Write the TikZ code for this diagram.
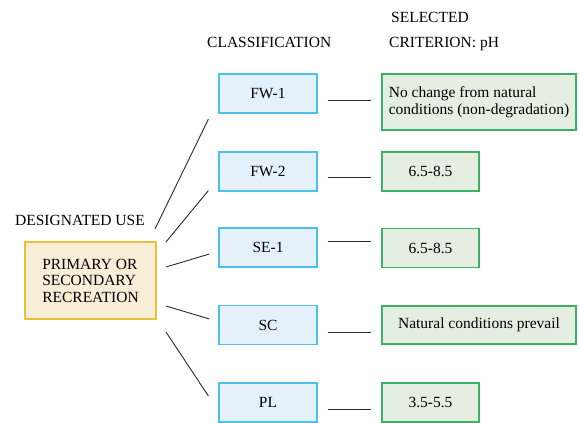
\documentclass[tikz,border=0pt]{standalone}
\usepackage{fontspec}
\setmainfont{Liberation Serif}
\usetikzlibrary{calc}
\definecolor{clsborder}{HTML}{4EC0EE}
\definecolor{clsfill}{HTML}{E4F1FA}
\definecolor{critborder}{HTML}{3CB065}
\definecolor{critfill}{HTML}{E4EFE2}
\definecolor{useborder}{HTML}{E8C23C}
\definecolor{usefill}{HTML}{F8EDD6}
\definecolor{linecol}{HTML}{2A2A2A}
\begin{document}
\begin{tikzpicture}[x=1pt,y=-1pt,
  every node/.style={font=\fontsize{15.5}{16.5}\selectfont, text=black},
  clsbox/.style={draw=clsborder, fill=clsfill, line width=1.2pt, minimum width=98pt, minimum height=39pt, inner sep=0pt},
  critbox/.style={draw=critborder, fill=critfill, line width=1.2pt, minimum height=39pt, inner sep=0pt},
  usebox/.style={draw=useborder, fill=usefill, line width=1.3pt, minimum width=131pt, minimum height=77pt, inner sep=0pt, align=left},
  lbl/.style={inner sep=0pt, anchor=base west},
  conn/.style={draw=linecol, line width=0.9pt}
]
\useasboundingbox (0,0) rectangle (579,423);

% headings
\node[lbl] (hdu) at (15,225) {DESIGNATED USE};
\node[lbl] (hcl) at (207,47) {CLASSIFICATION};
\node[lbl] (hsel) at (391,23) {SELECTED};
\node[lbl] (hcrit) at (389,47) {CRITERION: pH};

% designated use
\node[usebox] (use) at (90.5,280.5) {PRIMARY OR\\SECONDARY\\RECREATION};

% classification boxes
\node[clsbox] (fw1) at (268,93.5) {FW-1};
\node[clsbox] (fw2) at (268,171.5) {FW-2};
\node[clsbox] (se1) at (268,247.5) {SE-1};
\node[clsbox] (sc) at (268,325) {SC};
\node[clsbox] (pl) at (268,402.5) {PL};

% criterion boxes
\node[critbox, minimum width=194pt, minimum height=56pt, align=left] (c1) at (479,102) {No change from natural\\conditions (non-degradation)};
\node[critbox, minimum width=97pt] (c2) at (430.5,171.5) {6.5-8.5};
\node[critbox, minimum width=97pt] (c3) at (430.5,248) {6.5-8.5};
\node[critbox, minimum width=194pt, minimum height=38pt] (c4) at (479,325) {Natural conditions prevail};
\node[critbox, minimum width=97pt] (c5) at (430.5,402.5) {3.5-5.5};

% fan connectors from designated use
\coordinate (u1) at (155,229);
\coordinate (u2) at (166,242);
\coordinate (u3) at (166,267);
\coordinate (u4) at (166,306);
\coordinate (u5) at (166,332);
\draw[conn] (u1) -- ([xshift=-10pt,yshift=-5.5pt]fw1.south west);
\draw[conn] (u2) -- ([xshift=-10pt,yshift=-19pt]fw2.west);
\draw[conn] (u3) -- ([xshift=-9pt,yshift=-6.5pt]se1.west);
\draw[conn] (u4) -- ([xshift=-9pt,yshift=6pt]sc.west);
\draw[conn] (u5) -- ([xshift=-10pt,yshift=6.5pt]pl.west);

% short connectors
\draw[conn] ([xshift=10pt,yshift=-6.5pt]fw1.east) -- ([xshift=-10pt,yshift=-6.5pt]fw1.east -| c1.west);
\draw[conn] ([xshift=10pt,yshift=-5.5pt]fw2.east) -- ([xshift=-10pt,yshift=-5.5pt]c2.west);
\draw[conn] ([xshift=10pt,yshift=6.5pt]se1.east) -- ([xshift=-10pt,yshift=6.5pt]se1.east -| c3.west);
\draw[conn] ([xshift=10pt,yshift=-7pt]sc.east) -- ([xshift=-10pt,yshift=-7pt]c4.west);
\draw[conn] ([xshift=10pt,yshift=-6.5pt]pl.east) -- ([xshift=-10pt,yshift=-6.5pt]c5.west);
\end{tikzpicture}
\end{document}
